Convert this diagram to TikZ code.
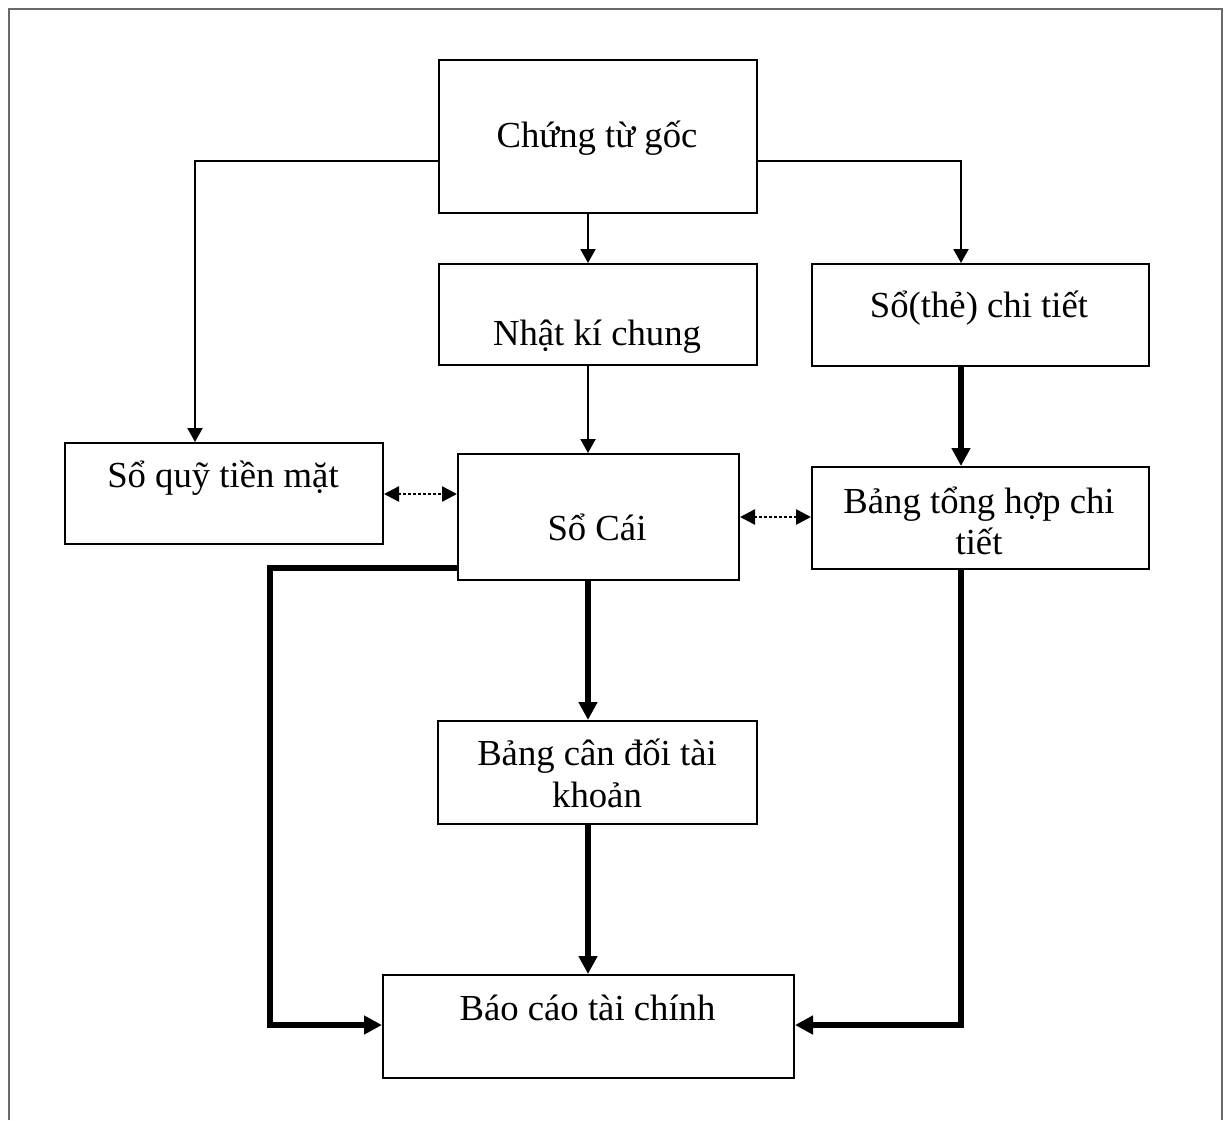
\documentclass[tikz,border=0pt]{standalone}
\usepackage{fontspec}
\setmainfont{Liberation Serif}
\usetikzlibrary{arrows.meta}
\definecolor{framegray}{RGB}{105,105,105}
\begin{document}
\begin{tikzpicture}[x=1pt,y=-1pt,
  box/.style={draw=black,line width=2pt,inner sep=0pt,anchor=north west},
  lbl/.style={anchor=base,inner sep=0pt,font=\fontsize{36.7}{42}\selectfont},
  flow/.style={draw=black,line width=2pt,-{Triangle[length=14pt,width=15pt]}},
  bold/.style={draw=black,line width=5.5pt,line join=miter,-{Triangle[length=18pt,width=18pt]}},
  link/.style={draw=black,line width=2.5pt,dash pattern=on 2.5pt off 2.5pt,
    {Triangle[length=15pt,width=15pt]}-{Triangle[length=15pt,width=15pt]}}]
\useasboundingbox (0,0) rectangle (1229,1120);
\fill[white] (0,0) rectangle (1229,1120);
% page frame, open at the bottom
\draw[framegray,line width=2pt] (8.5,1120) -- (8.5,8.5) -- (1222,8.5) -- (1222,1120);

% boxes
\node[box,minimum width=318pt,minimum height=153pt] (ctg) at (438,59) {};
\node[box,minimum width=318pt,minimum height=101pt] (nkc) at (438,263) {};
\node[box,minimum width=337pt,minimum height=102pt] (st)  at (811,263) {};
\node[box,minimum width=318pt,minimum height=101pt] (sq)  at (64,442) {};
\node[box,minimum width=281pt,minimum height=126pt] (sc)  at (457,453) {};
\node[box,minimum width=337pt,minimum height=102pt] (bth) at (811,466) {};
\node[box,minimum width=319pt,minimum height=103pt] (bcd) at (437,720) {};
\node[box,minimum width=411pt,minimum height=103pt] (bc)  at (382,974) {};

% box texts
\node[lbl] (t-ctg) at (597,147) {Chứng từ gốc};
\node[lbl] (t-nkc) at (597,345) {Nhật kí chung};
\node[lbl] (t-st)  at (979,317) {Sổ(thẻ) chi tiết};
\node[lbl] (t-sq)  at (223,487) {Sổ quỹ tiền mặt};
\node[lbl] (t-sc)  at (597,540) {Sổ Cái};
\node[lbl] (t-bth1) at (979,513) {Bảng tổng hợp chi};
\node[lbl] (t-bth2) at (979,554) {tiết};
\node[lbl] (t-bcd1) at (597,765) {Bảng cân đối tài};
\node[lbl] (t-bcd2) at (597,807) {khoản};
\node[lbl] (t-bc)  at (587.5,1020) {Báo cáo tài chính};

% routing guides
\coordinate (midx)   at (588,0);
\coordinate (leftx)  at (195,0);
\coordinate (rightx) at (961,0);
\coordinate (outx)   at (270,0);
\coordinate (splity) at (0,161);
\coordinate (dotly)  at (0,494);
\coordinate (dotry)  at (0,517);
\coordinate (scly)   at (0,568);
\coordinate (lowy)   at (0,1025);

% thin arrows
\draw[flow] (ctg.south -| midx) -- (nkc.north -| midx);
\draw[flow] (nkc.south -| midx) -- (sc.north -| midx);
\draw[flow] (ctg.west |- splity) -| (sq.north -| leftx);
\draw[flow] (ctg.east |- splity) -| (st.north -| rightx);

% dotted two-way links
\draw[link] (sq.east |- dotly) -- (sc.west |- dotly);
\draw[link] (sc.east |- dotry) -- (bth.west |- dotry);

% bold arrows
\draw[bold] (st.south -| rightx) -- (bth.north -| rightx);
\draw[bold] (sc.south -| midx) -- (bcd.north -| midx);
\draw[bold] (bcd.south -| midx) -- (bc.north -| midx);
\draw[bold] (sc.west |- scly) -| (outx |- lowy) -- (bc.west |- lowy);
\draw[bold] (bth.south -| rightx) |- (bc.east |- lowy);
\end{tikzpicture}
\end{document}
